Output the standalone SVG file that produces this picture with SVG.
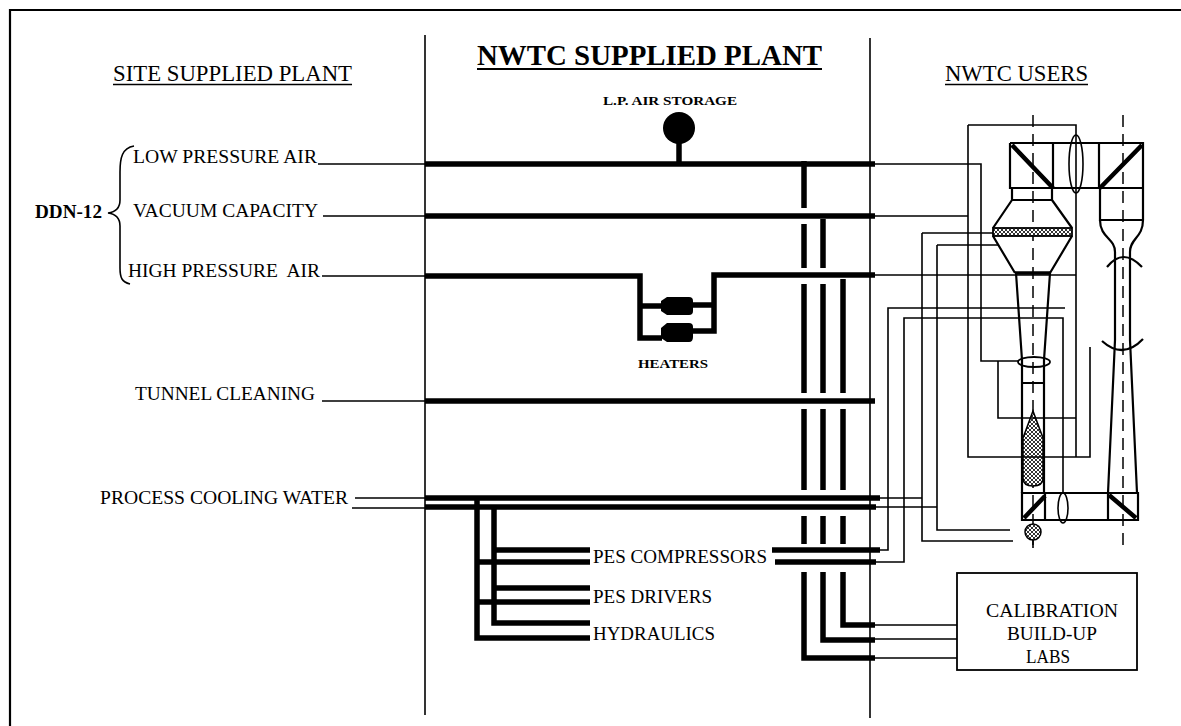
<svg xmlns="http://www.w3.org/2000/svg" width="1181" height="726" viewBox="0 0 1181 726">
<style>
text{font-family:"Liberation Serif","Times New Roman",serif;fill:#000}
.thk{stroke:#000;stroke-width:5.5;fill:none;stroke-linejoin:miter}
.thn{stroke:#000;stroke-width:1.6;fill:none}
.med{stroke:#000;stroke-width:2.2;fill:none}
.dia{stroke:#000;stroke-width:4.5;fill:none}
.cl{stroke:#000;stroke-width:1.5;fill:none;stroke-dasharray:12 7}
.lbl{font-size:18px}
.sm{font-size:13.5px;font-weight:bold}
</style>
<defs>
<pattern id="hatch" width="4" height="4" patternUnits="userSpaceOnUse">
<rect width="4" height="4" fill="#fff"/>
<path d="M0,0 L4,4 M4,0 L0,4" stroke="#000" stroke-width="0.8"/>
</pattern>
</defs>
<rect width="1181" height="726" fill="#fff"/>
<g id="frame">
<path class="med" d="M10,726 V10 H1181"/>
<path class="thn" d="M425,35 V715"/>
<path class="thn" d="M870,38 V718"/>
</g>
<g id="headings">
<text x="113" y="81" font-size="24" textLength="239" lengthAdjust="spacingAndGlyphs">SITE SUPPLIED PLANT</text>
<path class="thn" d="M113,84.5 H352"/>
<text x="477" y="65" font-size="30" font-weight="bold" textLength="345" lengthAdjust="spacingAndGlyphs">NWTC SUPPLIED PLANT</text>
<path class="med" d="M477,69 H822"/>
<text x="945" y="81" font-size="24" textLength="143" lengthAdjust="spacingAndGlyphs">NWTC USERS</text>
<path class="thn" d="M945,84.5 H1088"/>
</g>
<g id="ddn12">
<text x="35" y="218" font-size="18" font-weight="bold" textLength="67" lengthAdjust="spacingAndGlyphs">DDN-12</text>
<path class="thn" d="M134,146 C122,148 120,158 120,172 L120,200 C120,208 116,212 108,213 C116,214 120,218 120,226 L120,268 C120,278 122,282 130,284"/>
</g>
<g id="sources">
<text class="lbl" x="133" y="163" textLength="184" lengthAdjust="spacingAndGlyphs">LOW PRESSURE AIR</text>
<text class="lbl" x="133" y="217" textLength="185" lengthAdjust="spacingAndGlyphs">VACUUM CAPACITY</text>
<text class="lbl" x="128" y="277" textLength="192" lengthAdjust="spacingAndGlyphs" style="white-space:pre">HIGH PRESSURE  AIR</text>
<text class="lbl" x="135" y="400" textLength="180" lengthAdjust="spacingAndGlyphs">TUNNEL CLEANING</text>
<text class="lbl" x="100" y="504" textLength="248" lengthAdjust="spacingAndGlyphs">PROCESS COOLING WATER</text>
</g>
<g id="lp-air-storage">
<text class="sm" x="603" y="105" textLength="134" lengthAdjust="spacingAndGlyphs">L.P. AIR STORAGE</text>
<circle cx="679" cy="128" r="16" fill="#000"/>
<path class="thk" d="M679,140 V164"/>
</g>
<g id="heaters">
<path d="M667,297 H689 Q693,297 693,301 V311 Q693,315 689,315 H667 L661,311 V301 Z" fill="#000"/>
<path d="M667,323 H689 Q693,323 693,327 V337 Q693,342 689,342 H667 L661,338 V328 Z" fill="#000"/>
<text class="sm" x="638" y="368" textLength="70" lengthAdjust="spacingAndGlyphs">HEATERS</text>
</g>
<g id="services">
<text class="lbl" x="593" y="563" textLength="174" lengthAdjust="spacingAndGlyphs">PES COMPRESSORS</text>
<text class="lbl" x="593" y="603" textLength="119" lengthAdjust="spacingAndGlyphs">PES DRIVERS</text>
<text class="lbl" x="593" y="640" textLength="122" lengthAdjust="spacingAndGlyphs">HYDRAULICS</text>
</g>
<g id="calibration">
<rect x="957" y="573" width="180" height="97" fill="none" stroke="#000" stroke-width="1.8"/>
<text x="1052" y="617" font-size="19" text-anchor="middle" textLength="132" lengthAdjust="spacingAndGlyphs">CALIBRATION</text>
<text x="1052" y="640" font-size="19" text-anchor="middle" textLength="90" lengthAdjust="spacingAndGlyphs">BUILD-UP</text>
<text x="1048" y="663" font-size="19" text-anchor="middle" textLength="44" lengthAdjust="spacingAndGlyphs">LABS</text>
</g>
<g id="tunnels">
<path class="cl" d="M1033,115 V548"/>
<path class="cl" d="M1123,115 V545"/>
<path class="med" d="M1010,143 H1143 V220 M1010,143 V188 H1143 M1053,143 V188 M1099,143 V188"/>
<path class="dia" d="M1012,145 L1053,188 M1142,145 L1100,188"/>
<path class="med" d="M1012,188 V200 H1052 V188 M1012,200 L993,228 M1052,200 L1072,228"/>
<rect x="993" y="228" width="79" height="8" fill="url(#hatch)" stroke="#000" stroke-width="1.8"/>
<path class="med" d="M993,236 L1015,273 M1072,236 L1050,273"/>
<path d="M1015,273 H1051" stroke="#000" stroke-width="3.5"/>
<path class="med" d="M1016,273 L1022,360 V493 M1050,273 L1044,360 V493 M1022,383 H1044"/>
<ellipse cx="1034" cy="362" rx="16" ry="5" fill="none" stroke="#000" stroke-width="1.8"/>
<path d="M1033,411 L1043,438 V478 Q1043,486 1033,486 Q1023,486 1023,478 V438 Z" fill="url(#hatch)" stroke="#000" stroke-width="1.5"/>
<path class="med" d="M1022,493 H1138 V520 H1022 Z M1045,493 V520 M1108,493 V520"/>
<path class="dia" d="M1024,518 L1045,496 M1109,495 L1136,518"/>
<ellipse cx="1063" cy="508" rx="5" ry="15" fill="none" stroke="#000" stroke-width="1.6"/>
<circle cx="1033" cy="532" r="8" fill="url(#hatch)" stroke="#000" stroke-width="1.5"/>
<path class="thn" d="M1033,540 V548"/>
<path class="med" d="M1100,188 V220 H1143"/>
<path class="med" d="M1100,220 C1100,238 1115,238 1115,252 V340 L1108,493 M1143,220 C1143,238 1130,238 1130,252 V340 L1137,493"/>
<path class="med" d="M1107,267 Q1123,247 1142,267 M1102,341 Q1123,360 1143,339"/>
<ellipse cx="1076" cy="164" rx="7" ry="29" fill="none" stroke="#000" stroke-width="1.6"/>
</g>
<g id="connectors">
<path class="thn" d="M318,164 H425 M323,216 H425 M322,276 H425 M322,401 H425 M355,498 H425 M352,508 H425"/>
<path class="thk" d="M425,164 H875 M425,216 H875 M425,276 H640 V338 H662 M640,306 H662 M875,275 H714 V331 H690 M690,305 H714 M425,401 H875 M425,498 H880 M425,507 H876"/>
<path class="thk" d="M804,161 V208 M804,224 V268 M804,284 V393 M804,409 V490 M804,516 V544 M804,572 V658 H875"/>
<path class="thk" d="M823,219 V268 M823,284 V393 M823,409 V490 M823,516 V544 M823,572 V640 H875"/>
<path class="thk" d="M843,279 V393 M843,409 V490 M843,516 V544 M843,572 V625 H875"/>
<path class="thk" d="M772,550 H880 M775,562 H876"/>
<path class="thk" d="M477,500 V638 H590 M494,509 V623 H590 M494,550 H590 M477,562 H590 M494,588 H590 M477,602 H590"/>
<path class="thn" d="M875,625 H957 M875,639 H957 M875,658 H957"/>
<path class="thn" d="M875,164 H981 V361 H1018 M998,361 V418 H1076"/>
<path class="thn" d="M875,216 H968 M968,125 V457 H1090 V347 M968,125 H1076 V457"/>
<path class="thn" d="M875,275 H1076"/>
<path class="thn" d="M875,498 H922 M922,233 V541 H1013 M922,233 H993 M875,507 H937 M937,245 V530 H1010 M937,245 H999"/>
<path class="thn" d="M875,550 H888 V308 H1065 M875,562 H904 V318 H1063 V493"/>
</g>
</svg>
